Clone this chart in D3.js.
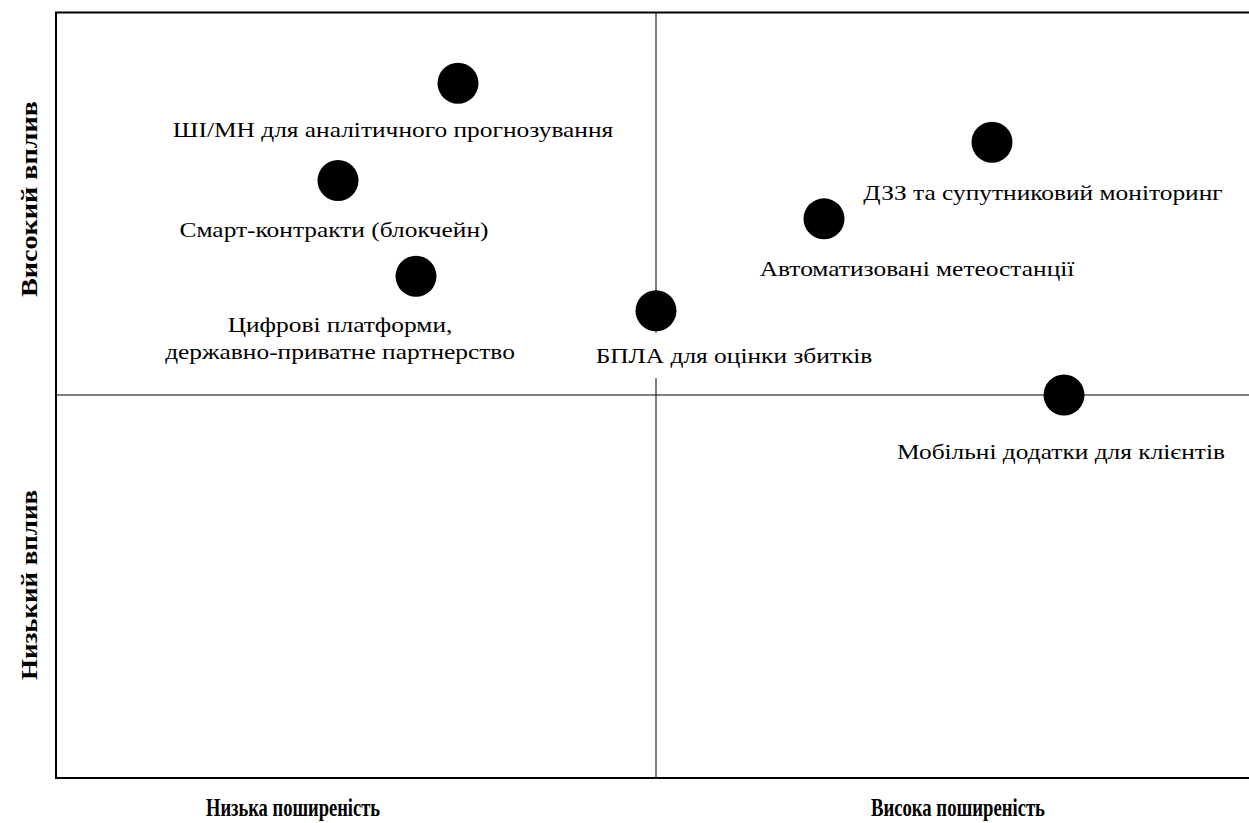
<!DOCTYPE html>
<html>
<head>
<meta charset="utf-8">
<script src="https://cdn.jsdelivr.net/npm/d3@7"></script>
<style>
  body { margin: 0; background: #fff; }
</style>
</head>
<body>
<svg width="1249" height="823"></svg>
<script>
// technologies on the matrix (prevalence 0..10, impact 0..10)
var techs = [
  ["ШІ/МН для аналітичного прогнозування"],
  ["Смарт-контракти (блокчейн)"],
  ["Цифрові платформи,", "державно-приватне партнерство"],
  ["БПЛА для оцінки збитків"],
  ["Автоматизовані метеостанції"],
  ["ДЗЗ та супутниковий моніторинг"],
  ["Мобільні додатки для клієнтів"]
];
var prevalence = [3.35, 2.35, 3.0, 5.0, 6.4, 7.8, 8.4];
var impact = [9.07, 7.8, 6.55, 6.1, 7.3, 8.3, 5.0];

var xTitles = ["Низька поширеність", "Висока поширеність"];
var yTitles = ["Високий вплив", "Низький вплив"];

// label offsets from the dot (layout only)
var labelOffset = [[-65, 54], [-4, 56], [-76, 56], [78, 52], [93, 57], [51, 58], [-3, 64]];

var serif = "'Liberation Serif', 'Times New Roman', Times, serif";
var stretch = 1.21; // labels in the source are drawn a bit wide
var svg = d3.select("svg");
var plotL = 56, plotR = 1256, plotT = 12, plotB = 778;

var x = d3.scaleLinear().domain([0, 10]).range([plotL, plotR]);
var y = d3.scaleLinear().domain([0, 10]).range([plotB, plotT]);

// frame (right side runs off the page)
svg.append("path")
   .attr("d", "M1260," + (plotT + 0.5) + "H" + plotL + "V" + plotB + "H1260")
   .attr("fill", "none")
   .attr("stroke", "#000")
   .attr("stroke-width", 2);

// quadrant lines
svg.append("line")
   .attr("x1", x(5)).attr("x2", x(5))
   .attr("y1", plotT).attr("y2", plotB)
   .attr("stroke", "#000").attr("stroke-width", 1);
svg.append("line")
   .attr("x1", plotL).attr("x2", 1260)
   .attr("y1", y(5)).attr("y2", y(5))
   .attr("stroke", "#000").attr("stroke-width", 1);

var data = techs.map(function(t, i) {
    return { lines: t, x: prevalence[i], y: impact[i], off: labelOffset[i] };
});

// dots
svg.selectAll("circle.dot")
   .data(data)
   .enter().append("circle")
   .attr("class", "dot")
   .attr("cx", function(d) { return x(d.x); })
   .attr("cy", function(d) { return y(d.y); })
   .attr("r", 20.5)
   .attr("fill", "#000");

// labels with white boxes
var lbl = svg.selectAll("g.lbl")
   .data(data)
   .enter().append("g")
   .attr("class", "lbl")
   .attr("transform", function(d) {
       return "translate(" + (x(d.x) + d.off[0]) + "," + (y(d.y) + d.off[1]) + ")";
   });

lbl.each(function(d) {
    var g = d3.select(this);
    var txt = g.append("text")
       .attr("text-anchor", "middle")
       .attr("font-family", serif)
       .attr("font-size", 21)
       .attr("transform", "scale(" + stretch + ",1)")
       .attr("fill", "#000");
    d.lines.forEach(function(s, j) {
        txt.append("tspan").attr("x", 0).attr("dy", j === 0 ? 0 : 27).text(s);
    });
    var bb = txt.node().getBBox();
    g.insert("rect", "text")
     .attr("x", bb.x * stretch - 16).attr("y", bb.y - 11)
     .attr("width", bb.width * stretch + 32).attr("height", bb.height + 22)
     .attr("fill", "#fff");
});

// axis titles
var xTitlePos = [293, 958];
svg.selectAll("text.xt")
   .data(xTitles)
   .enter().append("text")
   .attr("class", "xt")
   .attr("x", function(d, i) { return xTitlePos[i]; })
   .attr("y", 816)
   .attr("text-anchor", "middle")
   .attr("font-family", serif)
   .attr("font-size", 26)
   .attr("font-weight", "bold")
   .attr("textLength", 174)
   .attr("lengthAdjust", "spacingAndGlyphs")
   .text(function(d) { return d; });

svg.selectAll("text.yt")
   .data(yTitles)
   .enter().append("text")
   .attr("class", "yt")
   .attr("transform", function(d, i) {
       return "translate(37," + (i === 0 ? 199 : 585) + ") rotate(-90)";
   })
   .attr("text-anchor", "middle")
   .attr("font-family", serif)
   .attr("font-size", 23)
   .attr("font-weight", "bold")
   .attr("textLength", function(d, i) { return i === 0 ? 196 : 190; })
   .attr("lengthAdjust", "spacingAndGlyphs")
   .text(function(d) { return d; });
</script>
</body>
</html>
